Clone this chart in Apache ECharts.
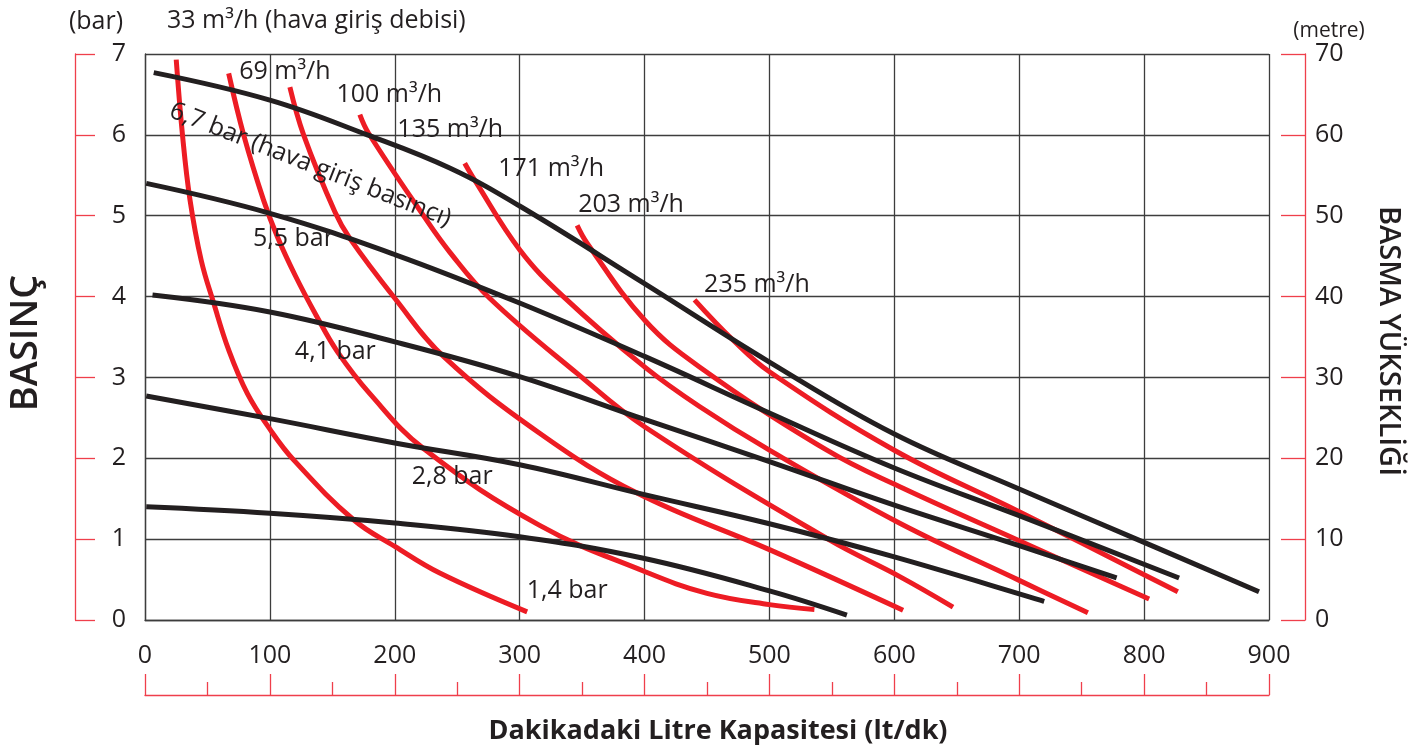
<!DOCTYPE html>
<html>
<head>
<meta charset="utf-8">
<script src="https://cdn.jsdelivr.net/npm/echarts@6/dist/echarts.min.js"></script>
<style>
  html, body { margin: 0; padding: 0; background: #fff; }
  #chart { width: 1424px; height: 751px; }
</style>
</head>
<body>
<div id="chart"></div>
<script>
// hava debisi eğrileri (kırmızı) -> [lt/dk, bar]
const air33  = [[25, 6.93], [30, 6.0], [36, 5.2], [45, 4.45], [55, 3.92], [67, 3.34], [82, 2.8], [100, 2.36], [119, 1.98], [167, 1.24], [200, 0.91], [236, 0.58], [306, 0.10]]
const air69  = [[67, 6.76], [79, 6.0], [95, 5.19], [106, 4.74], [120, 4.27], [137, 3.77], [154, 3.32], [180, 2.8], [223, 2.12], [316, 1.17], [400, 0.6], [450, 0.33], [500, 0.19], [536, 0.13]]
const air100 = [[116, 6.59], [127, 6.0], [152, 5.05], [164, 4.72], [200, 3.98], [239, 3.26], [316, 2.31], [394, 1.57], [500, 0.87], [607, 0.12]]
const air135 = [[172, 6.25], [179, 6.02], [223, 5.0], [244, 4.55], [276, 3.98], [346, 3.05], [400, 2.39], [548, 0.99], [604, 0.54], [647, 0.16]]
const air171 = [[256, 5.65], [264, 5.44], [300, 4.58], [335, 4.0], [400, 3.13], [444, 2.64], [500, 2.10], [604, 1.20], [700, 0.49], [755, 0.09]]
const air203 = [[346, 4.88], [354, 4.66], [400, 3.71], [444, 3.13], [546, 2.10], [604, 1.65], [700, 0.98], [804, 0.26]]
const air235 = [[440, 3.96], [471, 3.46], [500, 3.07], [600, 2.10], [700, 1.34], [800, 0.56], [827, 0.35]]

// hava giriş basıncı eğrileri (siyah) -> [lt/dk, bar]
const bar67 = [[7, 6.77], [100, 6.43], [178, 6.0], [244, 5.59], [300, 5.12], [400, 4.16], [500, 3.19], [600, 2.30], [700, 1.62], [800, 0.96], [892, 0.35]]
const bar55 = [[1, 5.40], [100, 5.03], [200, 4.52], [300, 3.92], [400, 3.26], [500, 2.56], [600, 1.88], [700, 1.29], [828, 0.52]]
const bar41 = [[6, 4.02], [100, 3.81], [200, 3.44], [300, 3.01], [400, 2.48], [500, 1.96], [600, 1.42], [700, 0.92], [778, 0.52]]
const bar28 = [[1, 2.77], [100, 2.49], [200, 2.19], [300, 1.92], [400, 1.55], [500, 1.19], [600, 0.78], [720, 0.23]]
const bar14 = [[1, 1.40], [100, 1.32], [200, 1.20], [300, 1.03], [400, 0.76], [500, 0.36], [562, 0.06]]

const airNames = ['33 m³/h', '69 m³/h', '100 m³/h', '135 m³/h', '171 m³/h', '203 m³/h', '235 m³/h']
const barNames = ['6,7 bar', '5,5 bar', '4,1 bar', '2,8 bar', '1,4 bar']

const RED = '#ed1c24'
const INK = '#231f20'
const AXRED = '#ef3f4b'
const GRIDC = '#3d3d3d'
const FONT = "'Open Sans', sans-serif"

// eğri etiketleri (veri koordinatında merkez)
const notes = [
  { text: '69 m³/h', at: [112, 6.78] },
  { text: '100 m³/h', at: [195.6, 6.5] },
  { text: '135 m³/h', at: [244.4, 6.06] },
  { text: '171 m³/h', at: [325.2, 5.58] },
  { text: '203 m³/h', at: [389.2, 5.14] },
  { text: '235 m³/h', at: [490, 4.15] },
  { text: '6,7 bar (hava giriş basıncı)', at: [132.4, 5.63], rot: -21.5 },
  { text: '5,5 bar', at: [118.8, 4.71] },
  { text: '4,1 bar', at: [152.4, 3.32] },
  { text: '2,8 bar', at: [246, 1.77] },
  { text: '1,4 bar', at: [338, 0.36] }
]

const curve = (name, data, color, z) => ({
  name,
  type: 'line',
  data,
  xAxisIndex: 0,
  yAxisIndex: 0,
  symbol: 'none',
  smooth: 0.4,
  silent: true,
  z,
  lineStyle: { width: 5, color, cap: 'butt' }
})

const series = []
;[air33, air69, air100, air135, air171, air203, air235].forEach((d, i) => series.push(curve(airNames[i], d, RED, 2)))
;[bar67, bar55, bar41, bar28, bar14].forEach((d, i) => series.push(curve(barNames[i], d, INK, 3)))
series.push({
  type: 'scatter',
  symbolSize: 0,
  silent: true,
  z: 5,
  itemStyle: { opacity: 1 },
  data: notes.map(n => ({
    value: n.at,
    label: {
      show: true,
      position: 'inside',
      formatter: n.text,
      rotate: n.rot || 0,
      fontFamily: FONT,
      fontSize: 25,
      color: INK,
      opacity: 1
    }
  }))
})

const redLine = { color: AXRED, width: 1.3 }

const chart = echarts.init(document.getElementById('chart'))
chart.setOption({
  animation: false,
  backgroundColor: '#fff',
  grid: { left: 145, right: 155, top: 54, bottom: 131 },
  xAxis: [
    {
      type: 'value', min: 0, max: 900, interval: 100,
      position: 'bottom',
      axisLine: { show: true, onZero: false, lineStyle: { color: GRIDC, width: 1.3 } },
      axisTick: { show: false },
      splitLine: { show: true, lineStyle: { color: GRIDC, width: 1.3 } },
      axisLabel: { margin: 23, fontFamily: FONT, fontSize: 25, color: INK }
    },
    {
      type: 'value', min: 0, max: 900, interval: 100,
      position: 'bottom', offset: 75,
      axisLine: { show: true, onZero: false, lineStyle: redLine },
      axisTick: { show: true, inside: true, length: 21, lineStyle: redLine },
      minorTick: { show: true, splitNumber: 2, length: 13, lineStyle: redLine },
      axisLabel: { show: false },
      splitLine: { show: false }
    }
  ],
  yAxis: [
    {
      type: 'value', min: 0, max: 7, interval: 1,
      position: 'left',
      axisLine: { show: true, onZero: false, lineStyle: { color: GRIDC, width: 1.3 } },
      axisTick: { show: false },
      splitLine: { show: true, lineStyle: { color: GRIDC, width: 1.3 } },
      axisLabel: { margin: 19, fontFamily: FONT, fontSize: 25, color: INK }
    },
    {
      type: 'value', min: 0, max: 7, interval: 1,
      position: 'left', offset: 70,
      axisLine: { show: true, onZero: false, lineStyle: redLine },
      axisTick: { show: true, inside: true, length: 20, lineStyle: redLine },
      axisLabel: { show: false },
      splitLine: { show: false }
    },
    {
      type: 'value', min: 0, max: 70, interval: 10,
      position: 'right', offset: 36,
      axisLine: { show: true, onZero: false, lineStyle: redLine },
      axisTick: { show: true, inside: true, length: 24, lineStyle: redLine },
      axisLabel: { margin: 10, fontFamily: FONT, fontSize: 25, color: INK, padding: [9, 0, 0, 0] },
      splitLine: { show: false }
    }
  ],
  graphic: [
    { type: 'text', x: 96, y: 22, style: { text: '(bar)', fontFamily: FONT, fontSize: 25, fill: INK, textAlign: 'center', textVerticalAlign: 'middle' } },
    { type: 'text', x: 167, y: 21, style: { text: '33 m³/h (hava giriş debisi)', fontFamily: FONT, fontSize: 25, fill: INK, textAlign: 'left', textVerticalAlign: 'middle' } },
    { type: 'text', x: 1329, y: 31, style: { text: '(metre)', fontFamily: FONT, fontSize: 21, fill: INK, textAlign: 'center', textVerticalAlign: 'middle' } },
    { type: 'text', x: 26, y: 343, rotation: Math.PI / 2, style: { text: 'BASINÇ', fontFamily: FONT, fontSize: 38, fontWeight: 600, fill: INK, textAlign: 'center', textVerticalAlign: 'middle' } },
    { type: 'text', x: 1388, y: 341, rotation: -Math.PI / 2, style: { text: 'BASMA YÜKSEKLİĞİ', fontFamily: FONT, fontSize: 29, fontWeight: 600, fill: INK, textAlign: 'center', textVerticalAlign: 'middle' } },
    { type: 'text', x: 718, y: 731, style: { text: 'Dakikadaki Litre Kapasitesi (lt/dk)', fontFamily: FONT, fontSize: 27, fontWeight: 'bold', fill: INK, textAlign: 'center', textVerticalAlign: 'middle' } }
  ],
  series
})
</script>
</body>
</html>
